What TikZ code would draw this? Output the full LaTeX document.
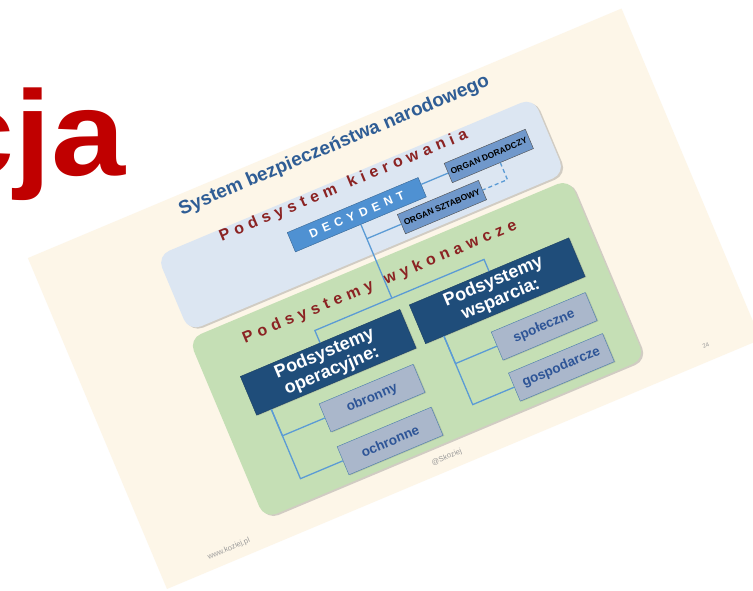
\documentclass[tikz,border=0pt]{standalone}
\usepackage{fontspec}
\setmainfont{Liberation Sans}
\newfontfamily\rozstrzel[LetterSpace=32]{Liberation Sans}
\newfontfamily\rozstrzeldec[LetterSpace=43]{Liberation Sans}
\usetikzlibrary{shadows}
\definecolor{czerwony}{HTML}{C00000}
\definecolor{slajd}{HTML}{FDF6E8}
\definecolor{kierowanie}{HTML}{DCE6F2}
\definecolor{wykonanie}{HTML}{C5DFB5}
\definecolor{tytulowy}{HTML}{2F5D95}
\definecolor{bordo}{HTML}{8B2323}
\definecolor{decydent}{HTML}{4F91D2}
\definecolor{organ}{HTML}{7098CB}
\definecolor{granat}{HTML}{1F4D7A}
\definecolor{szary}{HTML}{AAB7CB}
\definecolor{napis}{HTML}{2E5597}
\definecolor{linia}{HTML}{5B9BD5}
\tikzset{
	panel/.style={rounded corners=13pt, drop shadow={shadow xshift=1.5pt, shadow yshift=-2pt, opacity=.35}},
	napisbordo/.style={font=\rozstrzel\bfseries\fontsize{16}{16}\selectfont, text=bordo, anchor=base west, inner sep=0pt},
	organbox/.style={draw=black!70, fill=organ, font=\bfseries\fontsize{8.5}{8.5}\selectfont, minimum width=88pt, minimum height=21pt, inner sep=0pt},
	glowny/.style={draw=granat!80!black, fill=granat, text=white, font=\bfseries\fontsize{18}{19}\selectfont, align=center, minimum width=173pt, minimum height=42pt, inner sep=0pt, drop shadow={shadow xshift=1pt, shadow yshift=-1pt, opacity=.3}},
	podbox/.style={draw=linia!80!black, fill=szary, text=napis, font=\bfseries\fontsize{13.5}{13.5}\selectfont, minimum width=102pt, minimum height=30.5pt, inner sep=0pt, drop shadow={shadow xshift=1pt, shadow yshift=-1pt, opacity=.3}},
	conn/.style={draw=linia, line width=1.3pt},
	stopka/.style={text=black!40, font=\fontsize{7.5}{7.5}\selectfont, inner sep=0pt}
}
\begin{document}
\begin{tikzpicture}[x=1pt, y=1pt]
	\useasboundingbox (0,0) rectangle (753,591);
	\clip (0,0) rectangle (753,591);
	\fill[white] (0,0) rectangle (753,591);

	% koncowka tytulu poprzedniego slajdu
	\node[font=\bfseries\fontsize{121}{121}\selectfont, text=czerwony, anchor=base east, inner sep=0pt, xscale=1.1] (cja) at (126,415) {cja};

	\begin{scope}[transform canvas={shift={(167pt,2pt)}, rotate=22.8}]
		\fill[slajd] (0,0) rectangle (644,359);

		\fill[panel, fill=kierowanie] (120,229) rectangle (528,311);
		\fill[panel, fill=wykonanie] (117,27) rectangle (530,222);

		\node[font=\bfseries\fontsize{19}{19}\selectfont, text=tytulowy, anchor=base, inner sep=0pt] (tytul) at (326,339) {System bezpieczeństwa narodowego};
		\node[napisbordo] (kier) at (185,299) {Podsystem\hspace{3pt} kierowania};
		\node[napisbordo] (wyk) at (167,196) {Podsystemy\hspace{3pt} wykonawcze};

		% podsystem kierowania
		\node[draw=decydent!70!black, fill=decydent, text=white, font=\rozstrzeldec\bfseries\fontsize{12}{12}\selectfont, minimum width=142pt, minimum height=21pt, inner sep=0pt] (dec) at (320,271.5) {DECYDENT};
		\node[organbox] (dor) at (464.5,274.5) {ORGAN DORADCZY};
		\node[organbox] (szt) at (401.5,245.5) {ORGAN SZTABOWY};

		% podsystemy wykonawcze
		\node[glowny] (op) at (236.5,146.5) {Podsystemy\\operacyjne:};
		\node[glowny] (ws) at (420,147) {Podsystemy\\wsparcia:};

		\node[podbox] (obr) at (263,96.5) {obronny};
		\node[podbox] (och) at (263,50) {ochronne};
		\node[podbox] (spo) at (449.5,96) {społeczne};
		\node[podbox] (gos) at (449.5,51.5) {gospodarcze};

		% polaczenia
		\coordinate (split) at (320,181);
		\draw[conn] (dec.south) -- (split);
		\draw[conn] (op.north) |- (split) -| (ws.north);
		\draw[conn] (dor.west) -- (dor.west -| dec.east);
		\draw[conn] (szt.west) -- (szt.west -| dec.south);
		\draw[conn, dash pattern=on 4pt off 3pt] ([xshift=8pt]dor.south) |- (szt.east);

		\coordinate (opt) at ([xshift=16pt]op.south west);
		\draw[conn] (opt) |- (obr.west);
		\draw[conn] (opt) |- (och.west);
		\coordinate (wst) at ([xshift=20pt]ws.south west);
		\draw[conn] (wst) |- (spo.west);
		\draw[conn] (wst) |- (gos.west);

		% stopka
		\node[stopka] (www) at (72.5,13) {www.koziej.pl};
		\node[stopka] (autor) at (309,13) {@Skoziej};
		\node[stopka, font=\fontsize{6}{6}\selectfont] (nr) at (591,15.5) {24};
	\end{scope}
\end{tikzpicture}
\end{document}
